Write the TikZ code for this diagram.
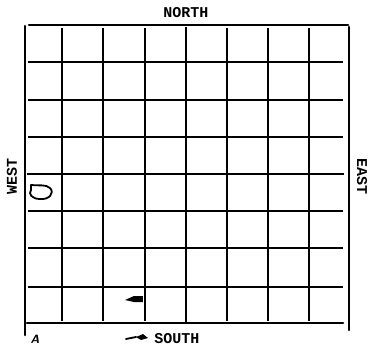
\documentclass[tikz,border=0pt]{standalone}
\usepackage{fontspec}
\newfontfamily\compassfont{Liberation Mono}
\usetikzlibrary{calc}

\begin{document}
\begin{tikzpicture}[
  x=1pt,y=-1pt,
  border/.style={line width=2.6pt,line cap=round},
  gridline/.style={line width=1.5pt},
  axisline/.style={line width=2.6pt},
  compass/.style={font=\compassfont\bfseries\fontsize{15}{15}\selectfont,inner sep=0pt},
  scribble/.style={line width=1.8pt,line cap=round,line join=round}
]
\useasboundingbox (0,0) rectangle (368,346);

% Interior grid lines
\foreach \gx in {62,103,145,227,268,309}
  \draw[gridline] (\gx,28) -- (\gx,321);
\foreach \gy in {62,100,137,211,248,287}
  \draw[gridline] (28,\gy) -- (343,\gy);

% Centre lines
\draw[axisline] (186,27) -- (186,322);
\draw[axisline] (27,174) -- (344,174);

% Outer frame
\draw[border] (29,25) -- (348,25);
\draw[border] (25,26) -- (25,335);
\draw[border] (349,27) -- (349,330);
\draw[border] (27,323) -- (343,323);

% Compass labels
\node[compass] (north) at (186,13) {NORTH};
\node[compass,anchor=base] (south) at (177,343) {SOUTH};
\node[compass,rotate=90] (west) at (12,176) {WEST};
\node[compass,rotate=-90] (east) at (362,177) {EAST};

% Pencil marks
\node[inner sep=0pt,font=\sffamily\bfseries\itshape\fontsize{12}{12}\selectfont] (mark) at (35,339) {A};
\draw[scribble] (31,185) .. controls (38,186) and (46,184) .. (50,188)
  .. controls (55,193) and (49,200) .. (40,199)
  .. controls (32,199) and (28,194) .. (31,190) -- cycle;
\fill (125,300) -- (134,296) -- (143,296) -- (143,302) -- (134,302) -- cycle;
\draw[scribble] (126,339) -- (136,337);
\fill (136,337) -- (143,334) -- (148,338) -- (141,340) -- cycle;
\end{tikzpicture}
\end{document}
